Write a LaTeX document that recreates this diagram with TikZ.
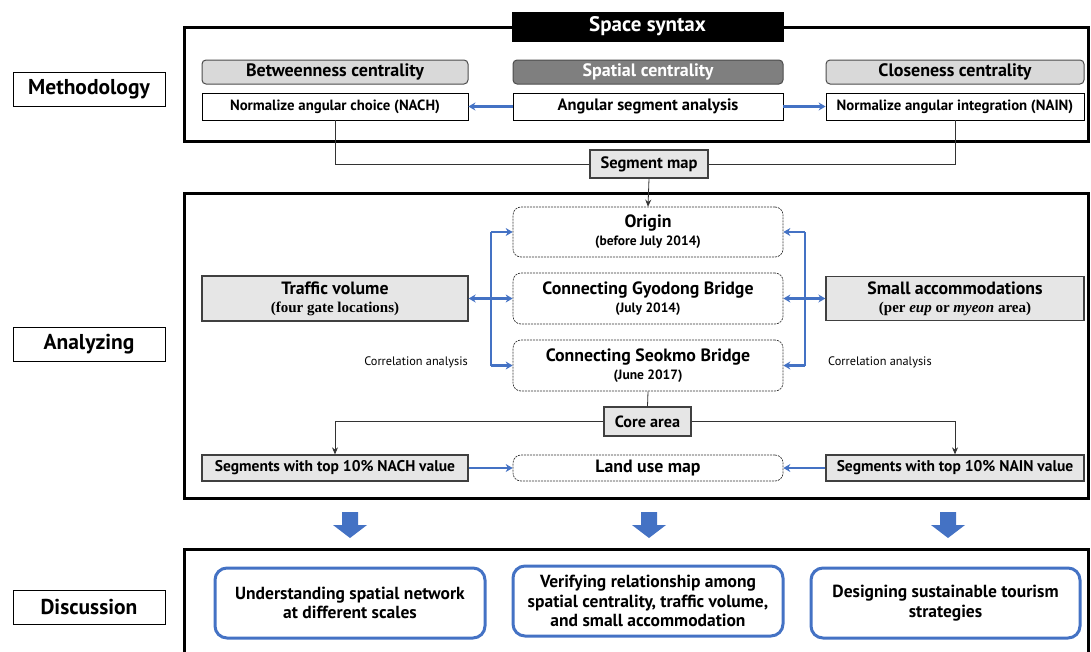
\documentclass[tikz,border=0pt]{standalone}
\usepackage{fontspec}
\setmainfont{PT Sans}
\newfontfamily\serifb{Liberation Serif}
\usetikzlibrary{arrows.meta}
\definecolor{bl}{HTML}{4472C4}
\definecolor{lgray}{HTML}{D9D9D9}
\definecolor{mgray}{HTML}{E6E6E6}
\definecolor{dgray}{HTML}{7F7F7F}
\begin{document}
\begin{tikzpicture}[x=1pt,y=-1pt,
  box/.style={draw, inner sep=0pt, align=center},
  sidelab/.style={box, line width=0.8pt, minimum width=152pt, minimum height=34pt, font=\fontsize{21.5}{24}\selectfont\bfseries},
  frame/.style={draw, line width=3pt},
  head/.style={box, rounded corners=4pt, draw=black!70, line width=1pt, fill=lgray, minimum height=24pt, font=\fontsize{18}{21}\selectfont\bfseries},
  wbox/.style={box, line width=0.8pt, minimum height=27pt, font=\fontsize{14.8}{17}\selectfont\bfseries},
  gbox/.style={box, draw=black!75, line width=1.3pt, fill=mgray, font=\fontsize{15.5}{18}\selectfont\bfseries},
  dbox/.style={box, dashed, dash pattern=on 2pt off 1pt, draw=black!80, line width=0.7pt, rounded corners=8pt, minimum width=270pt, font=\fontsize{17.8}{20}\selectfont\bfseries},
  disc/.style={box, draw=bl, line width=3pt, rounded corners=12pt, minimum width=270pt, minimum height=70pt, font=\fontsize{17.5}{19.5}\selectfont\bfseries},
  blarrow/.style={draw=bl, line width=2.2pt, -{Stealth[length=7pt,width=8pt]}},
  blline/.style={draw=bl, line width=2.2pt},
  blk/.style={draw=black!80, line width=0.8pt},
  blkarrow/.style={blk, -{Stealth[length=7pt,width=6pt]}},
  small/.style={font=\fontsize{12.3}{14}\selectfont},
  bigarrow/.style={fill=bl, draw=none}
]
\useasboundingbox (0,0) rectangle (1091,651);
\clip (0,0) rectangle (1091,651);

% side labels
\node[sidelab] (meth) at (89,89.5) {Methodology};
\node[sidelab] (ana) at (89,344) {Analyzing};
\node[sidelab] (dis) at (89,607) {Discussion};

% frames
\draw[frame] (184,27) rectangle (1088,141);
\draw[frame] (184,193) rectangle (1088,498);
\draw[frame] (184,549) rectangle (1088,680);

% methodology section
\node[box, fill=black, text=white, minimum width=271pt, minimum height=29pt, font=\fontsize{21}{24}\selectfont\bfseries] (ss) at (647.5,26.5) {Space syntax};
\node[head, minimum width=266pt] (bc) at (335,72) {Betweenness centrality};
\node[head, minimum width=270pt, fill=dgray, text=white] (sc) at (648,72) {Spatial centrality};
\node[head, minimum width=258pt] (cc) at (955,72) {Closeness centrality};
\node[wbox, minimum width=266pt] (nach) at (335,106.5) {Normalize angular choice (NACH)};
\node[wbox, minimum width=270pt, font=\fontsize{16.5}{19}\selectfont\bfseries] (asa) at (648,106.5) {Angular segment analysis};
\node[wbox, minimum width=258pt] (nain) at (955,106.5) {Normalize angular integration (NAIN)};
\path[blarrow] (asa.west) -- (nach.east);
\path[blarrow] (asa.east) -- (nain.west);

\node[gbox, minimum width=118pt, minimum height=28pt, font=\fontsize{16.5}{19}\selectfont\bfseries] (seg) at (649,164) {Segment map};
\draw[blk] (nach.south) |- (seg.west);
\draw[blk] (nain.south) |- (seg.east);

% analyzing section
\node[dbox, minimum height=50pt] (origin) at (648,232) {Origin\\[-2pt]{\fontsize{13.5}{15}\selectfont (before July 2014)}};
\node[dbox, minimum height=51pt] (gyo) at (648,298.5) {Connecting Gyodong Bridge\\[-2pt]{\fontsize{13.5}{15}\selectfont (July 2014)}};
\node[dbox, minimum height=51pt] (seok) at (648,365.5) {Connecting Seokmo Bridge\\[-2pt]{\fontsize{13.5}{15}\selectfont (June 2017)}};
\draw[blkarrow] (seg.south) -- (origin.north);

\node[gbox, minimum width=266pt, minimum height=45pt, font=\fontsize{17.8}{20}\selectfont\bfseries] (traffic) at (335,298.5) {Traffic volume\\[-2pt]{\serifb\fontsize{15}{17}\selectfont\bfseries (four gate locations)}};
\node[gbox, minimum width=258pt, minimum height=44pt, font=\fontsize{17.8}{20}\selectfont\bfseries] (smallacc) at (955,298.5) {Small accommodations\\[-2pt]{\serifb\fontsize{15}{17}\selectfont\bfseries (per \textit{eup} or \textit{myeon} area)}};

\coordinate (lb) at (491,298.5);
\coordinate (rb) at (805,298.5);
\path[blline] (lb |- origin.west) -- (lb |- seok.west);
\path[blarrow] (lb |- origin.west) -- (origin.west);
\path[blarrow] (lb) -- (gyo.west);
\path[blarrow] (lb |- seok.west) -- (seok.west);
\path[blarrow] (lb) -- (traffic.east);
\path[blline] (rb |- origin.east) -- (rb |- seok.east);
\path[blarrow] (rb |- origin.east) -- (origin.east);
\path[blarrow] (rb) -- (gyo.east);
\path[blarrow] (rb |- seok.east) -- (seok.east);
\path[blarrow] (rb) -- (smallacc.west);

\node[small, anchor=east, inner sep=0pt] (cal) at (468,362) {Correlation analysis};
\node[small, anchor=west, inner sep=0pt] (car) at (828,362) {Correlation analysis};

\node[gbox, minimum width=87pt, minimum height=29pt, font=\fontsize{16.2}{19}\selectfont\bfseries] (core) at (647.5,421.5) {Core area};
\draw[blk] (seok.south) -- (core.north);

\node[gbox, minimum width=266pt, minimum height=26pt] (snach) at (335,468) {Segments with top 10\% NACH value};
\node[dbox, minimum height=26pt] (land) at (648,468) {Land use map};
\node[gbox, minimum width=258pt, minimum height=26pt] (snain) at (955,468) {Segments with top 10\% NAIN value};
\draw[blkarrow] (core.west) -| (snach.north);
\draw[blkarrow] (core.east) -| (snain.north);
\path[blarrow] (snach.east) -- (land.west);
\path[blarrow] (snain.west) -- (land.east);

% big arrows
\foreach \xx in {350,649,948}{
  \fill[bigarrow] (\xx-8,512) -- (\xx+8,512) -- (\xx+8,525) -- (\xx+17,525) -- (\xx,538) -- (\xx-17,525) -- (\xx-8,525) -- cycle;
}

% discussion
\node[disc, minimum width=270pt] (d1) at (350,603) {Understanding spatial network\\at different scales};
\node[disc, minimum width=270pt] (d2) at (648,601) {Verifying relationship among\\spatial centrality, traffic volume,\\and small accommodation};
\node[disc, minimum width=269pt] (d3) at (945.5,603) {Designing sustainable tourism\\strategies};
\end{tikzpicture}
\end{document}
